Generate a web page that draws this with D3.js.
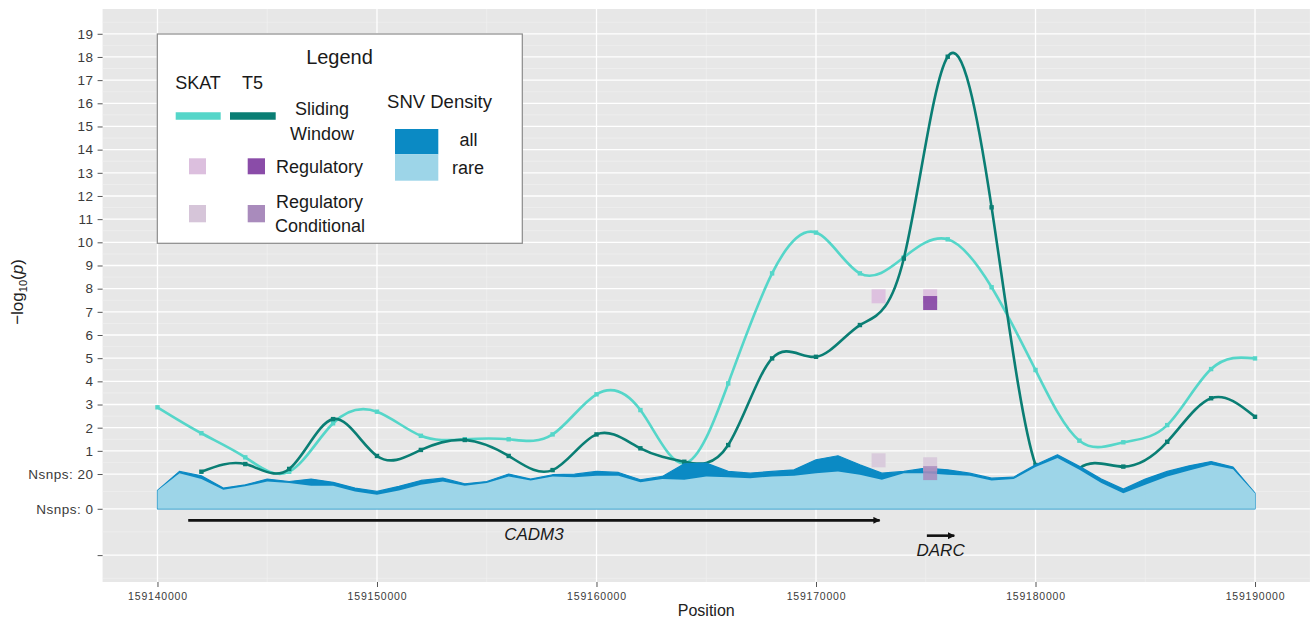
<!DOCTYPE html>
<html><head><meta charset="utf-8">
<script src="https://cdn.jsdelivr.net/npm/d3@7"></script>
<style>body{margin:0;background:#fff;} svg{display:block;font-family:"Liberation Sans",Arial,sans-serif;}</style>
</head><body><svg id="c" width="1311" height="618"></svg>
<script>
// ---------------- data ----------------
const windowPos = [159140000,159142000,159144000,159146000,159148000,159150000,159152000,159154000,159156000,159158000,159160000,159162000,159164000,159166000,159168000,159170000,159172000,159174000,159176000,159178000,159180000,159182000,159184000,159186000,159188000,159190000];
const skatP = [2.88,1.76,0.72,0.10,2.19,2.69,1.65,1.50,1.50,1.71,3.44,2.76,0.46,3.91,8.66,10.42,8.66,9.35,10.13,8.06,4.49,1.44,1.37,2.11,4.53,4.99];
const t5Pos = [159142000,159144000,159146000,159148000,159150000,159152000,159154000,159156000,159158000,159160000,159162000,159164000,159166000,159168000,159170000,159172000,159174000,159176000,159178000,159180000,159182000,159184000,159186000,159188000,159190000];
const t5P = [0.10,0.43,0.22,2.37,0.78,1.04,1.47,0.78,0.17,1.71,1.11,0.53,1.25,4.99,5.06,6.43,9.30,18.01,11.51,0.39,0.25,0.32,1.39,3.27,2.47];

const densityPos = [159140000,159141000,159142000,159143000,159144000,159145000,159146000,159147000,159148000,159149000,159150000,159151000,159152000,159153000,159154000,159155000,159156000,159157000,159158000,159159000,159160000,159161000,159162000,159163000,159164000,159165000,159166000,159167000,159168000,159169000,159170000,159171000,159172000,159173000,159174000,159175000,159176000,159177000,159178000,159179000,159180000,159181000,159182000,159183000,159184000,159185000,159186000,159187000,159188000,159189000,159190000];
const densityAll = [10.5,21.5,19.0,11.9,13.8,17.1,15.7,17.1,15.2,11.9,10.0,12.9,16.3,17.6,14.4,15.7,20.0,17.1,19.6,19.9,21.5,20.9,16.7,18.6,25.9,26.3,21.5,20.5,21.5,22.4,28.2,30.5,25.3,20.5,21.5,23.4,22.4,20.5,17.6,18.2,25.3,31.1,24.4,17.1,11.3,17.1,21.5,24.7,27.2,24.0,9.0];
const densityRare = [10.5,20.5,17.1,10.9,12.9,15.7,14.8,13.2,13.2,10.0,8.1,10.5,13.8,15.7,13.2,14.8,18.6,16.3,18.6,18.2,19.0,19.0,15.2,17.1,16.7,18.6,18.2,17.6,18.6,19.0,20.5,21.5,19.6,16.7,20.5,20.5,19.6,19.0,16.3,17.1,24.0,29.2,22.4,14.8,9.0,13.8,18.6,22.1,25.3,22.8,9.0];

const regSkatPos = [159172850,159175200];
const regSkatP = [7.67,7.67];
const regT5Pos = [159175200];
const regT5P = [7.38];
const condSkatPos = [159172850,159175200];
const condSkatP = [0.59,0.42];
const condT5Pos = [159175200];
const condT5P = [0.04];

const genes = ["CADM3","DARC"];
const geneStart = [159141400,159175050];
const geneEnd = [159172900,159176300];
const geneRow = [-2.0,-2.66];
const geneLabelRow = [-2.6,-3.28];

const yBreaks = [-3.5,-1.5,0,1,2,3,4,5,6,7,8,9,10,11,12,13,14,15,16,17,18,19];
const yLabels = ["","Nsnps: 0","Nsnps: 20","1","2","3","4","5","6","7","8","9","10","11","12","13","14","15","16","17","18","19"];
const yMinor = [-4.5,-2.5,-0.75,0.5,1.5,2.5,3.5,4.5,5.5,6.5,7.5,8.5,9.5,10.5,11.5,12.5,13.5,14.5,15.5,16.5,17.5,18.5,19.5];
const xBreaks = [159140000,159150000,159160000,159170000,159180000,159190000];
const xMinor = [159145000,159155000,159165000,159175000,159185000];

// ---------------- colours ----------------
const cSkat = "#55d6c9", cT5 = "#0a7e74", cAll = "#0b8ac4", cRare = "#9dd5e8";
const cRegSkat = "#dcbfde", cRegT5 = "#8a4ca8", cCondSkat = "#d6c5d9", cCondT5 = "#a98bbc";

// ---------------- scales ----------------
const svg = d3.select("#c");
const panel = {l:102.6, r:1309.9, t:9, b:582};
const x = d3.scaleLinear().domain([159137500,159192500]).range([panel.l, panel.r]);
const y = d3.scaleLinear().domain([-4.66,20.07]).range([panel.b, panel.t]);
const ySnp = d3.scaleLinear().domain([0,20]).range([y(-1.5), y(0)]);

// panel background
svg.append("rect").attr("x",panel.l).attr("y",panel.t).attr("width",panel.r-panel.l).attr("height",panel.b-panel.t).attr("fill","#e7e7e7");
const g = svg.append("g");
g.selectAll(".ym").data(yMinor.filter(v=>y(v)>panel.t && y(v)<panel.b)).join("line")
  .attr("x1",panel.l).attr("x2",panel.r).attr("y1",d=>y(d)).attr("y2",d=>y(d)).attr("stroke","#f1f1f1").attr("stroke-width",0.6);
g.selectAll(".xm").data(xMinor).join("line")
  .attr("y1",panel.t).attr("y2",panel.b).attr("x1",d=>x(d)).attr("x2",d=>x(d)).attr("stroke","#f1f1f1").attr("stroke-width",0.6);
g.selectAll(".yM").data(yBreaks).join("line")
  .attr("x1",panel.l).attr("x2",panel.r).attr("y1",d=>y(d)).attr("y2",d=>y(d)).attr("stroke","#ffffff").attr("stroke-width",1.3);
g.selectAll(".xM").data(xBreaks).join("line")
  .attr("y1",panel.t).attr("y2",panel.b).attr("x1",d=>x(d)).attr("x2",d=>x(d)).attr("stroke","#ffffff").attr("stroke-width",1.3);

// lines
const skatData = windowPos.map((p,i)=>[p,skatP[i]]);
const t5Data = t5Pos.map((p,i)=>[p,t5P[i]]);
const lineGen = d3.line().x(d=>x(d[0])).y(d=>y(d[1])).curve(d3.curveNatural);
svg.append("path").attr("d",lineGen(skatData)).attr("fill","none").attr("stroke",cSkat).attr("stroke-width",2.6);
svg.selectAll(".ms").data(skatData).join("rect")
  .attr("x",d=>x(d[0])-2.2).attr("y",d=>y(d[1])-2.2).attr("width",4.4).attr("height",4.4).attr("fill",cSkat);
svg.append("path").attr("d",lineGen(t5Data)).attr("fill","none").attr("stroke",cT5).attr("stroke-width",2.6);
svg.selectAll(".mt").data(t5Data).join("rect")
  .attr("x",d=>x(d[0])-2.2).attr("y",d=>y(d[1])-2.2).attr("width",4.4).attr("height",4.4).attr("fill",cT5);

// density
const areaAll = d3.area().x((d,i)=>x(densityPos[i])).y0(ySnp(0)).y1(d=>ySnp(d));
svg.append("path").attr("d",areaAll(densityAll)).attr("fill",cAll).attr("stroke",cAll).attr("stroke-width",1.2).attr("stroke-linejoin","round");
svg.append("path").attr("d",areaAll(densityRare)).attr("fill",cRare);

// regulatory squares
const sq = 14;
function squares(pos, vals, col, op){
  svg.append("g").selectAll("rect").data(pos).join("rect")
    .attr("x",d=>x(d)-sq/2).attr("y",(d,i)=>y(vals[i])-sq/2).attr("width",sq).attr("height",sq)
    .attr("fill",col).attr("fill-opacity",op);
}
squares(regSkatPos, regSkatP, cRegSkat, 0.95);
squares(regT5Pos, regT5P, cRegT5, 0.95);
squares(condSkatPos, condSkatP, cCondSkat, 0.85);
squares(condT5Pos, condT5P, cCondT5, 0.85);

// genes
const defs = svg.append("defs");
defs.append("marker").attr("id","arr").attr("viewBox","0 0 10 10").attr("refX",9).attr("refY",5)
  .attr("markerWidth",8).attr("markerHeight",7).attr("markerUnits","userSpaceOnUse").attr("orient","auto")
  .append("path").attr("d","M0,0L10,5L0,10Z").attr("fill","#111");
genes.forEach((gname,i)=>{
  svg.append("line").attr("x1",x(geneStart[i])).attr("x2",x(geneEnd[i])).attr("y1",y(geneRow[i])).attr("y2",y(geneRow[i]))
    .attr("stroke","#111").attr("stroke-width",2.6).attr("marker-end","url(#arr)");
  svg.append("text").attr("x",(x(geneStart[i])+x(geneEnd[i]))/2).attr("y",y(geneLabelRow[i])).attr("dy","0.35em")
    .attr("text-anchor","middle").attr("font-style","italic").attr("font-size",17).attr("fill","#1a1a1a").text(gname);
});

// axes
const yAxis = svg.append("g").attr("transform",`translate(${panel.l},0)`)
  .call(d3.axisLeft(y).tickValues(yBreaks).tickFormat((d,i)=>yLabels[i]).tickSize(5).tickPadding(4));
yAxis.select(".domain").remove();
yAxis.attr("font-size",null).attr("font-family",null);
yAxis.selectAll("line").attr("stroke","#555");
yAxis.selectAll("text").style("font-size","13.5px").style("letter-spacing","0.5px").attr("fill","#3a3a3a");
const xAxis = svg.append("g").attr("transform",`translate(0,${panel.b})`)
  .call(d3.axisBottom(x).tickValues(xBreaks).tickFormat(d=>String(d)).tickSize(5).tickPadding(6));
xAxis.select(".domain").remove();
xAxis.attr("font-size",null).attr("font-family",null);
xAxis.selectAll("line").attr("stroke","#555");
xAxis.selectAll("text").style("font-size","10.5px").style("letter-spacing","0.8px").attr("fill","#3a3a3a");

svg.append("text").attr("x",(panel.l+panel.r)/2).attr("y",615.5).attr("text-anchor","middle").attr("font-size",16).attr("fill","#222").text("Position");
const yt = svg.append("text").attr("transform",`translate(23,292) rotate(-90)`).attr("text-anchor","middle").attr("font-size",17).attr("fill","#222");
yt.append("tspan").text("\u2212log");
yt.append("tspan").attr("font-size",11).attr("dy",4).text("10");
yt.append("tspan").attr("dy",-4).text("(");
yt.append("tspan").attr("font-style","italic").text("p");
yt.append("tspan").text(")");

// legend
const lg = svg.append("g");
lg.append("rect").attr("x",157.3).attr("y",34).attr("width",365).attr("height",209.3).attr("fill","#fff").attr("stroke","#8a8a8a").attr("stroke-width",1.2);
const T = (tx,ty,s,fs,anchor)=>lg.append("text").attr("x",tx).attr("y",ty).attr("font-size",fs).attr("text-anchor",anchor||"start").attr("fill","#1a1a1a").text(s);
T(339.5,63.5,"Legend",20,"middle");
T(198,89.3,"SKAT",18,"middle");
T(252.5,89.3,"T5",18,"middle");
lg.append("line").attr("x1",175.7).attr("x2",220.7).attr("y1",116).attr("y2",116).attr("stroke",cSkat).attr("stroke-width",7.5);
lg.append("line").attr("x1",230).attr("x2",275.7).attr("y1",116).attr("y2",116).attr("stroke",cT5).attr("stroke-width",7.5);
T(322,115,"Sliding",18,"middle");
T(322,139.5,"Window",18,"middle");
T(439.5,108.3,"SNV Density",18.5,"middle");
lg.append("rect").attr("x",395).attr("y",129).attr("width",43.3).attr("height",25.3).attr("fill",cAll);
lg.append("rect").attr("x",395).attr("y",154.3).attr("width",43.3).attr("height",26.4).attr("fill",cRare);
T(468.5,146,"all",18,"middle");
T(468,174,"rare",18,"middle");
lg.append("rect").attr("x",189).attr("y",158.3).attr("width",17).attr("height",16).attr("fill",cRegSkat);
lg.append("rect").attr("x",247.7).attr("y",158.3).attr("width",17.3).attr("height",16).attr("fill",cRegT5);
T(276,172.7,"Regulatory",18);
lg.append("rect").attr("x",189).attr("y",205).attr("width",17).attr("height",17.3).attr("fill",cCondSkat);
lg.append("rect").attr("x",247.7).attr("y",205).attr("width",17.3).attr("height",17.3).attr("fill",cCondT5);
T(276,207.7,"Regulatory",18);
T(275,231.7,"Conditional",18);
</script></body></html>
